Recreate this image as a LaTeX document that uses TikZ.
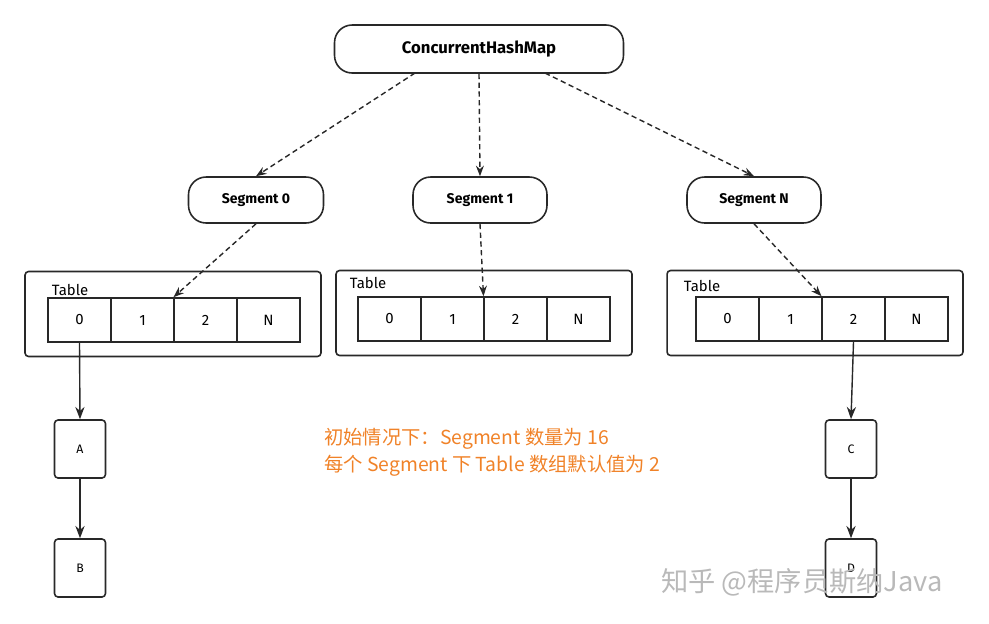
\documentclass[tikz,border=0pt]{standalone}
\usepackage{fontspec}
\setmainfont{Fira Sans}
\newfontfamily\cjk{Noto Sans CJK SC}
\usetikzlibrary{arrows.meta,positioning}
\definecolor{note}{RGB}{240,130,40}
\definecolor{line}{RGB}{40,40,40}
\newcommand{\px}{0.02cm}

\begin{document}
\begin{tikzpicture}[x=\px, y=-\px,
    rbox/.style = {draw=line, line width=0.9pt, rounded corners=10pt, font=\fontsize{8}{9}\selectfont\bfseries},
    tbox/.style = {draw=line, line width=0.9pt, rounded corners=2pt, minimum width=5.92cm, minimum height=1.7cm},
    cell/.style = {draw=line, line width=0.9pt, minimum width=1.25cm, minimum height=0.88cm, inner sep=0pt, font=\fontsize{8.5}{9}\selectfont},
    item/.style = {draw=line, line width=0.9pt, rounded corners=2pt, minimum width=1.02cm, minimum height=1.16cm, font=\fontsize{7}{8}\selectfont},
    segarrow/.style = {line width=0.8pt, densely dashed, -{Stealth[length=6pt]}, draw=line},
    link/.style = {line width=0.8pt, -{Stealth[length=7pt]}, draw=line}]
    \useasboundingbox (0,0) rectangle (989,623);
    % map and segments
    \node[rbox, minimum width=5.78cm, minimum height=0.96cm, font=\fontsize{9.5}{11}\selectfont\bfseries] (map) at (479,49) {ConcurrentHashMap};
    \node[rbox, minimum width=2.7cm, minimum height=0.92cm] (seg0) at (256,200) {Segment 0};
    \node[rbox, minimum width=2.68cm, minimum height=0.92cm] (seg1) at (480,200) {Segment 1};
    \node[rbox, minimum width=2.68cm, minimum height=0.92cm] (segN) at (754,200) {Segment N};
    % tables
    \foreach \t/\cx/\cy/\lx/\ly/\sx in {a/173/314/70/290/48, b/484/313/368/283/358, c/815/313/702/286/696} {
        \node[tbox] (\t) at (\cx,\cy) {};
        \node[font=\fontsize{8.5}{9}\selectfont] (\t lab) at (\lx,\ly) {Table};
        \foreach \c [count=\i from 0] in {0,1,2,N} {
            \node[cell] (\t\i) at ({\sx+31.5+63*\i},{\cy+6}) {\c};
        }
    }
    % items
    \node[item] (A) at (80,449) {A};
    \node[item] (B) at (80,568) {B};
    \node[item] (C) at (851,449) {C};
    \node[item] (D) at (851,568) {D};
    % connectors
    \coordinate (m0) at (415,73);
    \coordinate (mN) at (545,73);
    \draw[segarrow] (m0) -- (seg0.north);
    \draw[segarrow] (map.south) -- (seg1.north);
    \draw[segarrow] (mN) -- (segN.north);
    \draw[segarrow] (seg0.south) -- (a2.north west);
    \draw[segarrow] (seg1.south) -- (b2.north west);
    \draw[segarrow] (segN.south) -- (c2.north west);
    \draw[link] (a0.south) -- (A.north);
    \draw[link] (A) -- (B);
    \draw[link] (c2.south) -- (C.north);
    \draw[link] (C) -- (D);
    % note
    \node[anchor=west, text=note, font=\cjk\fontsize{11}{15.5}\selectfont, align=left] (note) at (318,452)
        {初始情况下：Segment 数量为 16\\每个 Segment 下 Table 数组默认值为 2};
    \node[anchor=west, text=gray!55, font=\cjk\fontsize{15.5}{17}\selectfont] (mark) at (655,582) {知乎 @程序员斯纳Java};
\end{tikzpicture}
\end{document}
